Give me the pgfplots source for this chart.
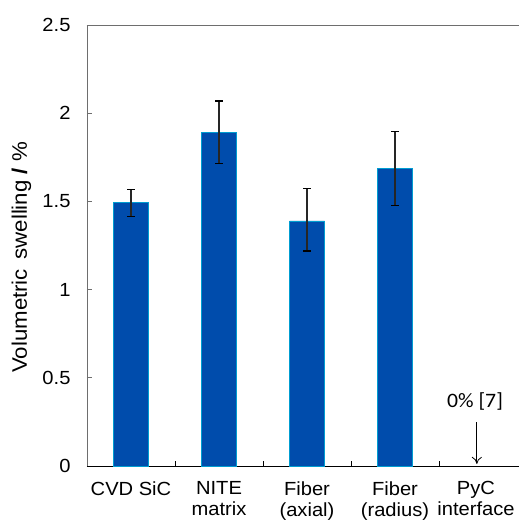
\documentclass[border=0pt]{standalone}
\usepackage{fontspec}
\setmainfont[FakeStretch=1.06]{Liberation Sans}
\newfontfamily\annfont[FakeStretch=1.06]{Carlito}
\usepackage{pgfplots}
\pgfplotsset{compat=1.18}
\usetikzlibrary{arrows.meta}
\definecolor{barblue}{RGB}{0,76,172}
\definecolor{axgray}{RGB}{110,110,110}
\begin{document}
\begin{tikzpicture}
\begin{axis}[
  scale only axis,
  width=432pt, height=441pt,
  xmin=-0.5, xmax=4.409,
  ymin=0, ymax=2.5,
  axis x line*=bottom,
  axis y line*=left,
  xtick={0,1,2,3,3.92},
  xticklabels={CVD SiC, NITE\\matrix, Fiber\\(axial), Fiber\\(radius), PyC\\interface},
  xticklabel style={align=center, font=\fontsize{19}{21}\selectfont, yshift=-12pt},
  major x tick style={draw=none},
  minor xtick={0.5,1.5,2.5,3.5},
  minor x tick style={black, line width=0.8pt},
  minor tick length=5pt,
  xtick pos=bottom,
  ytick={0,0.5,1,1.5,2,2.5},
  yticklabels={0,0.5,1,1.5,2,2.5},
  yticklabel style={font=\fontsize{19}{23}\selectfont, xshift=-13pt},
  ytick pos=left,
  tick align=inside,
  major tick length=5pt,
  y tick style={axgray, line width=0.6pt},
  ylabel={Volumetric\hspace{0.45em}swelling \textbf{/} \%},
  every axis y label/.style={at={(axis description cs:-0.152,0.473)}, rotate=90, anchor=center, font=\fontsize{21}{24}\selectfont},
  axis line style={line width=0.8pt},
  x axis line style={black, -},
  y axis line style={axgray, -},
  clip=false,
]
\addplot[ybar, bar width=35pt, fill=barblue, draw=barblue!55!cyan, line width=0.5pt,
  error bars/.cd, y dir=both, y explicit,
  error bar style={black!85, line width=1.1pt},
  error mark options={rotate=90, mark size=3.6pt, line width=1.3pt, black}]
  table[x=x, y=y, y error plus=ep, y error minus=em] {
x y ep em
0 1.493 0.073 0.078
1 1.892 0.177 0.178
2 1.389 0.185 0.170
3 1.686 0.209 0.210
};
\draw[axgray, line width=0.8pt] (rel axis cs:0,1) -- (rel axis cs:1,1);
\node[font=\annfont\fontsize{20.5}{23}\selectfont] at (axis cs:3.909,0.363) {0\% [7]};
\draw[-{To[length=7pt,width=10pt]}, line width=0.8pt] (axis cs:3.93,0.249) -- (axis cs:3.93,0.012);
\coordinate (bl) at (rel axis cs:0,0);
\coordinate (tr) at (rel axis cs:1,1);
\end{axis}
\pgfresetboundingbox
\path ([xshift=-87pt,yshift=-55pt]bl) rectangle ([yshift=25pt]tr);
\end{tikzpicture}
\end{document}
